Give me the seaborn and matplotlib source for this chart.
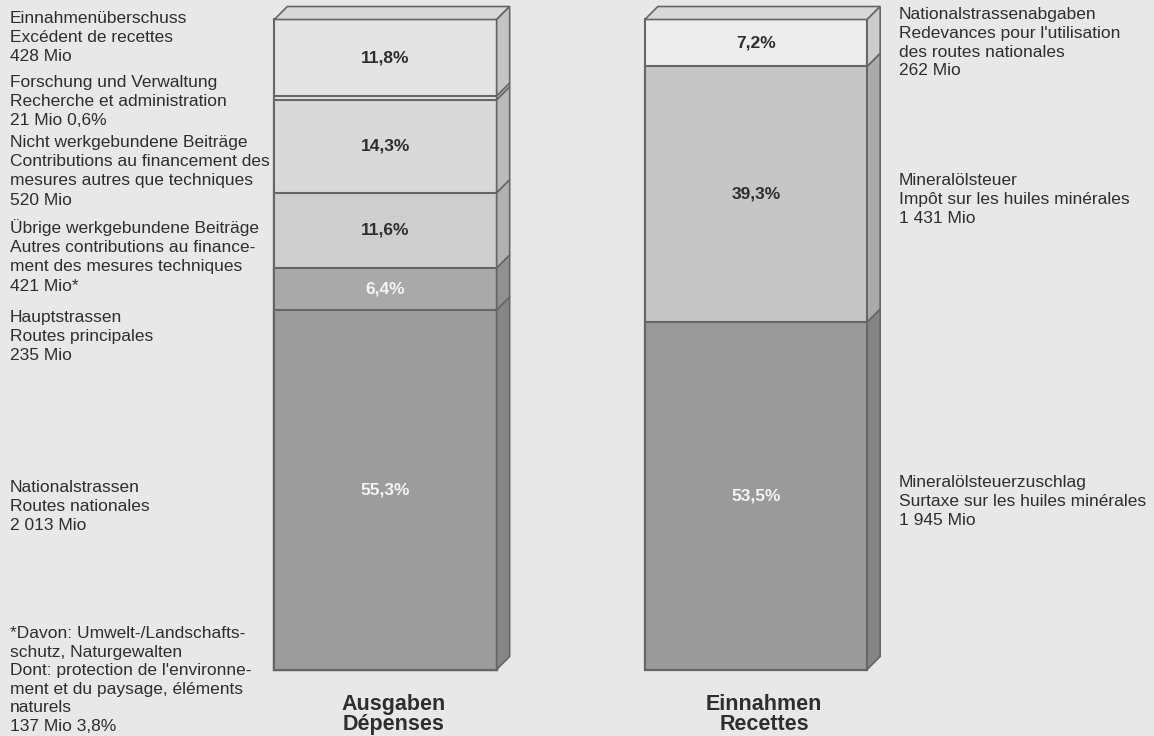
import numpy as np
import pandas as pd
import matplotlib
matplotlib.use("Agg")
import matplotlib.pyplot as plt
from matplotlib.patches import Polygon
import seaborn as sns

# ---- data (Mio CHF) ---------------------------------------------------------
sides = ["Ausgaben", "Einnahmen"]
side_titles = ["Ausgaben\nDépenses", "Einnahmen\nRecettes"]

# expenditure, stacked bottom -> top
ausgaben_values = [2013, 235, 421, 520, 21, 428]
ausgaben_pct = ["55,3%", "6,4%", "11,6%", "14,3%", "", "11,8%"]
ausgaben_names = [
    ["Nationalstrassen", "Routes nationales"],
    ["Hauptstrassen", "Routes principales"],
    ["Übrige werkgebundene Beiträge", "Autres contributions au finance-",
     "ment des mesures techniques"],
    ["Nicht werkgebundene Beiträge", "Contributions au financement des",
     "mesures autres que techniques"],
    ["Forschung und Verwaltung", "Recherche et administration"],
    ["Einnahmenüberschuss", "Excédent de recettes"],
]
ausgaben_suffix = ["", "", "*", "", " 0,6%", ""]

# revenue, stacked bottom -> top
einnahmen_values = [1945, 1431, 262]
einnahmen_pct = ["53,5%", "39,3%", "7,2%"]
einnahmen_names = [
    ["Mineralölsteuerzuschlag", "Surtaxe sur les huiles minérales"],
    ["Mineralölsteuer", "Impôt sur les huiles minérales"],
    ["Nationalstrassenabgaben", "Redevances pour l'utilisation",
     "des routes nationales"],
]

footnote_lines = ["*Davon: Umwelt-/Landschafts-", "schutz, Naturgewalten",
                  "Dont: protection de l'environne-",
                  "ment et du paysage, éléments", "naturels", "137 Mio 3,8%"]

# ---- styling ------------------------------------------------------------------
BG = "#e8e8e8"
EDGE = "#666666"
TXT = "#2e2e2e"
ausgaben_colors = ["#9c9c9c", "#a9a9a9", "#cecece", "#d9d9d9", "#e4e4e4", "#e4e4e4"]
ausgaben_pct_colors = ["#f4f4f4", "#f4f4f4", TXT, TXT, TXT, TXT]
einnahmen_colors = ["#9a9a9a", "#c6c6c6", "#ededed"]
einnahmen_pct_colors = ["#f4f4f4", TXT, TXT]

sns.set_theme(style="white")
plt.rcParams["font.family"] = ["Liberation Sans", "DejaVu Sans"]

W, H = 1154, 736
fig = plt.figure(figsize=(W / 100, H / 100), dpi=100, facecolor=BG)
ax = fig.add_axes([0, 0, 1, 1])
ax.set_facecolor(BG)

rows = []
for side, vals in zip(sides, [ausgaben_values, einnahmen_values]):
    tops = np.cumsum(vals)
    for i, (v, t) in enumerate(zip(vals, tops)):
        rows.append(dict(side=side, seg=i, value=v, top=t, bottom=t - v))
df = pd.DataFrame(rows)

BAR_W = 0.6
colors = {"Ausgaben": ausgaben_colors, "Einnahmen": einnahmen_colors}

# stacked bars: cumulative totals drawn from the top segment downwards
for side in sides:
    sub = df[df.side == side].sort_values("top", ascending=False)
    for _, r in sub.iterrows():
        sns.barplot(data=sub[sub.seg == r.seg], x="side", y="top", order=sides,
                    color=colors[side][int(r.seg)], saturation=1, width=BAR_W,
                    edgecolor=EDGE, linewidth=1.5, errorbar=None, ax=ax)

total = df.groupby("side")["value"].sum().max()
px_per_unit_y = 650 / total
ax.set_xlim(-385.5 / 370.5, (W - 385.5) / 370.5)
ax.set_ylim(-66.5 / px_per_unit_y, (H - 66.5) / px_per_unit_y)
ax.axis("off")

# ---- 3D faces (depth in pixels) ------------------------------------------------
D = 13
to_disp = ax.transData.transform
to_data = ax.transData.inverted().transform


def face(pts_data, offsets, fc):
    disp = to_disp(np.asarray(pts_data, float)) + np.asarray(offsets, float)
    ax.add_patch(Polygon(to_data(disp), closed=True, facecolor=fc,
                         edgecolor=EDGE, linewidth=1.2, zorder=1))


def darker(c, f):
    rgb = np.array(matplotlib.colors.to_rgb(c)) * f
    return tuple(rgb)


for pos, side in enumerate(sides):
    x0, x1 = pos - BAR_W / 2, pos + BAR_W / 2
    sub = df[df.side == side]
    top = sub.top.max()
    # top face
    face([(x0, top), (x1, top), (x1, top), (x0, top)],
         [(0, 0), (0, 0), (D, D), (D, D)], "#d8d8d8")
    # side faces, one per segment
    for _, r in sub.iterrows():
        face([(x1, r.bottom), (x1, r.top), (x1, r.top), (x1, r.bottom)],
             [(0, 0), (0, 0), (D, D), (D, D)],
             darker(colors[side][int(r.seg)], 0.86))

# ---- percentage labels in the segments -----------------------------------------
for pos, (side, pcts, pcols) in enumerate(zip(
        sides, [ausgaben_pct, einnahmen_pct],
        [ausgaben_pct_colors, einnahmen_pct_colors])):
    sub = df[df.side == side]
    for _, r in sub.iterrows():
        label = pcts[int(r.seg)]
        if label:
            ax.text(pos, r.bottom + r.value / 2, label, ha="center", va="center",
                    fontsize=12.5, fontweight="bold", color=pcols[int(r.seg)],
                    zorder=5)

# ---- bar titles --------------------------------------------------------------
for pos, title in enumerate(side_titles):
    xd = to_data(to_disp([(pos, 0)]) + [(8, 0)])[0][0]
    for k, line in enumerate(title.split("\n")):
        fig.text(ax.transData.transform((xd, 0))[0] / W, 1 - (710 + 20 * k) / H,
                 line, ha="center", va="baseline", fontsize=15.5,
                 fontweight="bold", color=TXT)


# ---- descriptive labels ------------------------------------------------------
def fmt_mio(v):
    return f"{v:,}".replace(",", " ") + " Mio"


def block(x_px, first_baseline, lines, step=19.2):
    for k, line in enumerate(lines):
        fig.text(x_px / W, 1 - (first_baseline + k * step) / H, line,
                 ha="left", va="baseline", fontsize=12.5, color=TXT)


left_baselines = [492, 322, 233, 147, 87, 23]
for names, v, suf, yb in zip(ausgaben_names, ausgaben_values, ausgaben_suffix,
                             left_baselines):
    block(10, yb, names + [fmt_mio(v) + suf])
block(10, 638, footnote_lines, step=18.6)

right_baselines = [487, 185, 19]
for names, v, yb in zip(einnahmen_names, einnahmen_values, right_baselines):
    block(899, yb, names + [fmt_mio(v)], step=18.8)

fig.savefig("out.png", dpi=100, facecolor=BG)
